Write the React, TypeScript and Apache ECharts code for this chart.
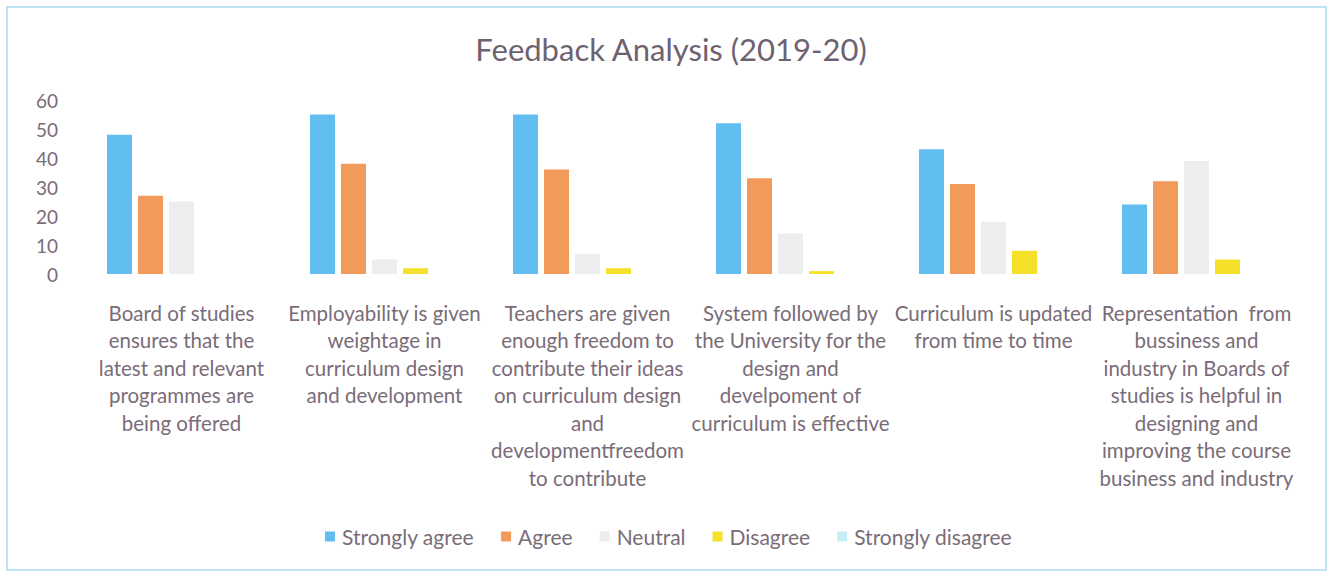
import React, { useEffect, useRef } from "react";
import * as echarts from "echarts";

const categories = [
  "Board of studies\nensures that the\nlatest and relevant\nprogrammes are\nbeing offered",
  "Employability is given\nweightage in\ncurriculum design\nand development",
  "Teachers are given\nenough freedom to\ncontribute their ideas\non curriculum design\nand\ndevelopmentfreedom\nto contribute",
  "System followed by\nthe University for the\ndesign and\ndevelpoment of\ncurriculum is effective",
  "Curriculum is updated\nfrom time to time",
  "Representation  from\nbussiness and\nindustry in Boards of\nstudies is helpful in\ndesigning and\nimproving the course\nbusiness and industry",
];

const stronglyAgree = [48, 55, 55, 52, 43, 24];
const agree = [27, 38, 36, 33, 31, 32];
const neutral = [25, 5, 7, 14, 18, 39];
const disagree = [0, 2, 2, 1, 8, 5];
const stronglyDisagree = [0, 0, 0, 0, 0, 0];

const seriesNames = ["Strongly agree", "Agree", "Neutral", "Disagree", "Strongly disagree"];
const seriesColors = ["#62bdf0", "#f29a5c", "#ededf0", "#f5e12a", "#c6eef8"];

const textColor = "#7a6c78";
const fontFamily = "Lato, 'Noto Sans', sans-serif";

export default function App() {
  const ref = useRef<HTMLDivElement>(null);

  useEffect(() => {
    if (!ref.current) return;
    const chart = echarts.init(ref.current, null, { renderer: "svg" });
    const allData = [stronglyAgree, agree, neutral, disagree, stronglyDisagree];
    chart.setOption({
      animation: false,
      backgroundColor: "#ffffff",
      textStyle: { fontFamily },
      title: {
        text: "Feedback Analysis (2019-20)",
        left: 666,
        top: 28,
        textAlign: "center",
        textStyle: { fontSize: 31, fontWeight: "normal", color: "#6e6270", fontFamily },
      },
      graphic: [
        {
          type: "rect",
          shape: { x: 7, y: 7, width: 1319, height: 563 },
          style: { fill: "none", stroke: "#a9dcef", lineWidth: 1.5 },
          silent: true,
        },
      ],
      legend: {
        top: 521,
        left: 320,
        icon: "rect",
        itemWidth: 10,
        itemHeight: 10,
        itemGap: 27,
        textStyle: { fontSize: 21, color: textColor, fontFamily, padding: [0, 0, 0, 2] },
        data: seriesNames,
      },
      grid: { left: 80, right: 32, top: 100, bottom: 298 },
      xAxis: {
        type: "category",
        data: categories,
        axisLine: { show: false },
        axisTick: { show: false },
        axisLabel: {
          interval: 0,
          margin: 25,
          fontSize: 20.5,
          lineHeight: 27.5,
          color: textColor,
          fontFamily,
          align: "center",
        },
      },
      yAxis: {
        type: "value",
        min: 0,
        max: 60,
        interval: 10,
        axisLine: { show: false },
        axisTick: { show: false },
        splitLine: { show: false },
        axisLabel: { fontSize: 19, color: textColor, margin: 22, fontFamily },
      },
      series: seriesNames.map((name, i) => ({
        name,
        type: "bar",
        data: allData[i],
        barWidth: 25,
        barGap: "24%",
        itemStyle: { color: seriesColors[i] },
      })),
    });
    return () => chart.dispose();
  }, []);

  return (
    <div
      ref={ref}
      style={{ position: "absolute", left: 0, top: 0, width: 1330, height: 572 }}
    />
  );
}
